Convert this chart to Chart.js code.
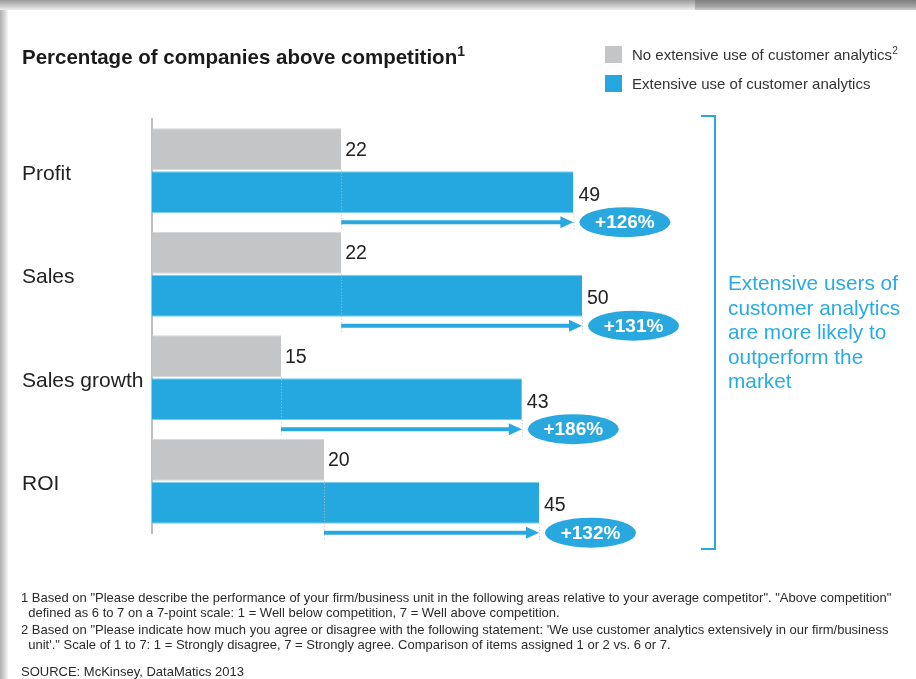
<!DOCTYPE html>
<html>
<head>
<meta charset="utf-8">
<script src="https://cdn.jsdelivr.net/npm/chart.js@4"></script>
<style>
  html, body { margin: 0; padding: 0; }
  body {
    width: 916px; height: 679px; position: relative; overflow: hidden;
    background: #fff; font-family: Arial, "Liberation Sans", sans-serif;
  }
  /* panel edges behind the white sheet */
  .edge-top { position: absolute; left: 0; top: 0; width: 695px; height: 10px;
    background: linear-gradient(#9a9a9a, #d4d4d4 70%, #efefef); }
  .edge-top-right { position: absolute; left: 695px; top: 0; width: 221px; height: 10px;
    background: linear-gradient(#7d7d7d, #a8a8a8 70%, #cfcfcf); }
  .edge-left { position: absolute; left: 0; top: 10px; width: 8px; height: 669px;
    background: linear-gradient(90deg, #b0b0b0, #d8d8d8 60%, #f6f6f6); }
  canvas { position: absolute; left: 0; top: 0; }
  .title { position: absolute; left: 22px; top: 47px; font-size: 20.5px; font-weight: bold;
    line-height: 20px; color: #1a1a1a; white-space: nowrap; }
  sup { font-size: 68%; line-height: 0; vertical-align: super; }
  .legend { position: absolute; left: 605px; font-size: 15px; line-height: 17px; color: #333;
    white-space: nowrap; }
  .legend span.box { display: inline-block; width: 17px; height: 17px; vertical-align: top; margin-right: 10px; }
  .bracket { position: absolute; left: 701px; top: 115px; width: 13px; height: 431px;
    border: 2px solid #29a8e0; border-left: none; }
  .note { position: absolute; left: 728px; top: 271px; font-size: 20.8px; line-height: 24.5px; color: #29abe2; }
  .foot { position: absolute; left: 21px; font-size: 13px; line-height: 15px; color: #2a2a2a; white-space: nowrap; }
</style>
</head>
<body>
<div class="edge-top"></div>
<div class="edge-top-right"></div>
<div class="edge-left"></div>

<canvas id="chart" width="916" height="679"></canvas>

<div class="title">Percentage of companies above competition<sup>1</sup></div>
<div class="legend" style="top:46px"><span class="box" style="background:#c4c5c7"></span>No extensive use of customer analytics<sup>2</sup></div>
<div class="legend" style="top:75px"><span class="box" style="background:#25a8df"></span>Extensive use of customer analytics</div>

<div class="bracket"></div>
<div class="note">Extensive users of<br>customer analytics<br>are more likely to<br>outperform the<br>market</div>

<div class="foot" style="top:590px">1 Based on "Please describe the performance of your firm/business unit in the following areas relative to your average competitor". "Above competition"</div>
<div class="foot" style="top:605px">&nbsp;&nbsp;defined as 6 to 7 on a 7-point scale: 1 = Well below competition, 7 = Well above competition.</div>
<div class="foot" style="top:622px">2 Based on "Please indicate how much you agree or disagree with the following statement: 'We use customer analytics extensively in our firm/business</div>
<div class="foot" style="top:637px">&nbsp;&nbsp;unit'." Scale of 1 to 7: 1 = Strongly disagree, 7 = Strongly agree. Comparison of items assigned 1 or 2 vs. 6 or 7.</div>
<div class="foot" style="top:664px">SOURCE: McKinsey, DataMatics 2013</div>

<script>
const categories = ['Profit', 'Sales', 'Sales growth', 'ROI'];
const noExtensiveUse = [22, 22, 15, 20];
const extensiveUse = [49, 50, 43, 45];
const uplift = ['+126%', '+131%', '+186%', '+132%'];

const GREY = '#c4c5c7';
const BLUE = '#25a8df';
const ACCENT = '#29a8e0';

// value labels, dotted guides, arrows and the uplift badges
const annotations = {
  id: 'annotations',
  afterDatasetsDraw(chart) {
    const ctx = chart.ctx;
    const greyBars = chart.getDatasetMeta(0).data;
    const blueBars = chart.getDatasetMeta(1).data;

    greyBars.forEach((g, i) => {
      const b = blueBars[i];
      const blueBottom = b.y + b.height / 2;
      const arrowY = blueBottom + 9;

      ctx.save();

      // faint dotted guides down to the arrow
      ctx.strokeStyle = '#b9bcc0';
      ctx.lineWidth = 1;
      ctx.setLineDash([1, 2]);
      ctx.beginPath();
      ctx.moveTo(g.x + 0.5, g.y + g.height / 2);
      ctx.lineTo(g.x + 0.5, arrowY + 7);
      ctx.moveTo(b.x + 0.5, blueBottom);
      ctx.lineTo(b.x + 0.5, arrowY + 7);
      ctx.stroke();
      ctx.setLineDash([]);

      // numbers next to the bars
      ctx.fillStyle = '#222';
      ctx.font = '19.5px Arial, "Liberation Sans", sans-serif';
      ctx.textAlign = 'left';
      ctx.textBaseline = 'middle';
      ctx.fillText(noExtensiveUse[i], g.x + 4, g.y + 1);
      ctx.fillText(extensiveUse[i], b.x + 5, b.y + 3);

      // arrow from grey end to blue end
      ctx.strokeStyle = ACCENT;
      ctx.fillStyle = ACCENT;
      ctx.lineWidth = 4;
      ctx.beginPath();
      ctx.moveTo(g.x, arrowY);
      ctx.lineTo(b.x - 10, arrowY);
      ctx.stroke();
      ctx.beginPath();
      ctx.moveTo(b.x, arrowY);
      ctx.lineTo(b.x - 13, arrowY - 6);
      ctx.lineTo(b.x - 13, arrowY + 6);
      ctx.closePath();
      ctx.fill();

      // uplift badge
      const cx = b.x + 6 + 45.5;
      ctx.beginPath();
      ctx.ellipse(cx, arrowY, 45.5, 15, 0, 0, Math.PI * 2);
      ctx.fill();
      ctx.fillStyle = '#fff';
      ctx.font = 'bold 19px Arial, "Liberation Sans", sans-serif';
      ctx.textAlign = 'center';
      ctx.fillText(uplift[i], cx, arrowY + 1);

      ctx.restore();
    });
  }
};

new Chart(document.getElementById('chart'), {
  type: 'bar',
  data: {
    labels: categories,
    datasets: [
      {
        label: 'No extensive use of customer analytics',
        data: noExtensiveUse,
        backgroundColor: GREY,
        borderColor: '#d4d5d7',
        borderWidth: { top: 1, bottom: 1 },
        borderSkipped: 'start',
        categoryPercentage: 0.83,
        barPercentage: 0.977
      },
      {
        label: 'Extensive use of customer analytics',
        data: extensiveUse,
        backgroundColor: BLUE,
        borderColor: '#7ccdf0',
        borderWidth: { top: 1, bottom: 1 },
        borderSkipped: 'start',
        categoryPercentage: 0.83,
        barPercentage: 0.977
      }
    ]
  },
  options: {
    indexAxis: 'y',
    responsive: false,
    animation: false,
    layout: { padding: { left: 22, top: 119, right: 248, bottom: 146 } },
    plugins: {
      legend: { display: false },
      tooltip: { enabled: false }
    },
    scales: {
      x: { display: false, min: 0, max: 60 },
      y: {
        grid: { display: false, drawTicks: false },
        border: { display: true, color: '#bdbec0', width: 2 },
        ticks: {
          crossAlign: 'far',
          labelOffset: 3,
          color: '#222',
          font: { family: 'Arial, "Liberation Sans", sans-serif', size: 21 }
        },
        afterFit(scale) { scale.width = 130; }
      }
    }
  },
  plugins: [annotations]
});
</script>
</body>
</html>
